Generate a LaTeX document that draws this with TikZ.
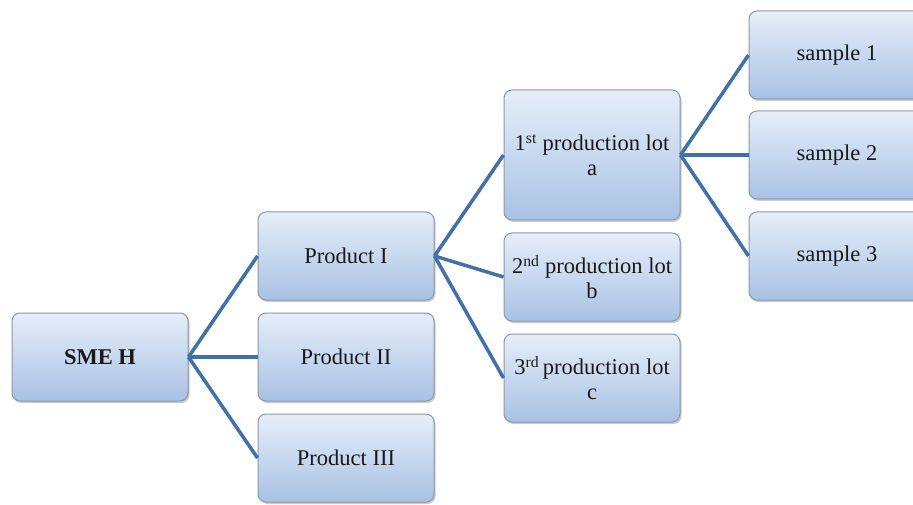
\documentclass[tikz,border=0pt]{standalone}
\usepackage{fontspec}
\setmainfont{Liberation Serif}
\usetikzlibrary{shadows}
\definecolor{linkblue}{RGB}{66,112,168}
\definecolor{boxtop}{RGB}{230,238,249}
\definecolor{boxbot}{RGB}{168,194,228}
\definecolor{boxedge}{RGB}{140,152,168}
\begin{document}
\begin{tikzpicture}[x=1pt,y=-1pt,
  box/.style={draw=boxedge, line width=1pt, rounded corners=8pt,
    top color=boxtop, bottom color=boxbot, minimum width=176pt,
    minimum height=88pt, align=center, font=\fontsize{22.5}{25}\selectfont,
    inner sep=1pt, text=black!90,
    drop shadow={shadow xshift=1.5pt, shadow yshift=-2pt, fill=black!40, opacity=0.5}},
  link/.style={draw=linkblue, line width=3.5pt}]
\useasboundingbox (0,0) rectangle (913,505);
\clip (0,0) rectangle (913,505);
\fill[white] (0,0) rectangle (913,505);
\node[box, font=\fontsize{22.5}{25}\selectfont\bfseries] (sme) at (100,357) {SME H};
\node[box] (p1) at (346,256) {Product I};
\node[box] (p2) at (346,357) {Product II};
\node[box] (p3) at (346,458) {Product III};
\node[box, minimum height=130pt] (l1) at (592,155) {1\textsuperscript{st} production lot\\a};
\node[box] (l2) at (592,277) {2\textsuperscript{nd} production lot\\b};
\node[box] (l3) at (592,378) {3\textsuperscript{rd}\,production lot\\c};
\node[box] (s1) at (837,55) {sample 1};
\node[box] (s2) at (837,155) {sample 2};
\node[box] (s3) at (837,256) {sample 3};
\foreach \t in {p1,p2,p3} \draw[link] (sme.east) -- (\t.west);
\foreach \t in {l1,l2,l3} \draw[link] (p1.east) -- (\t.west);
\foreach \t in {s1,s2,s3} \draw[link] (l1.east) -- (\t.west);
\end{tikzpicture}
\end{document}
